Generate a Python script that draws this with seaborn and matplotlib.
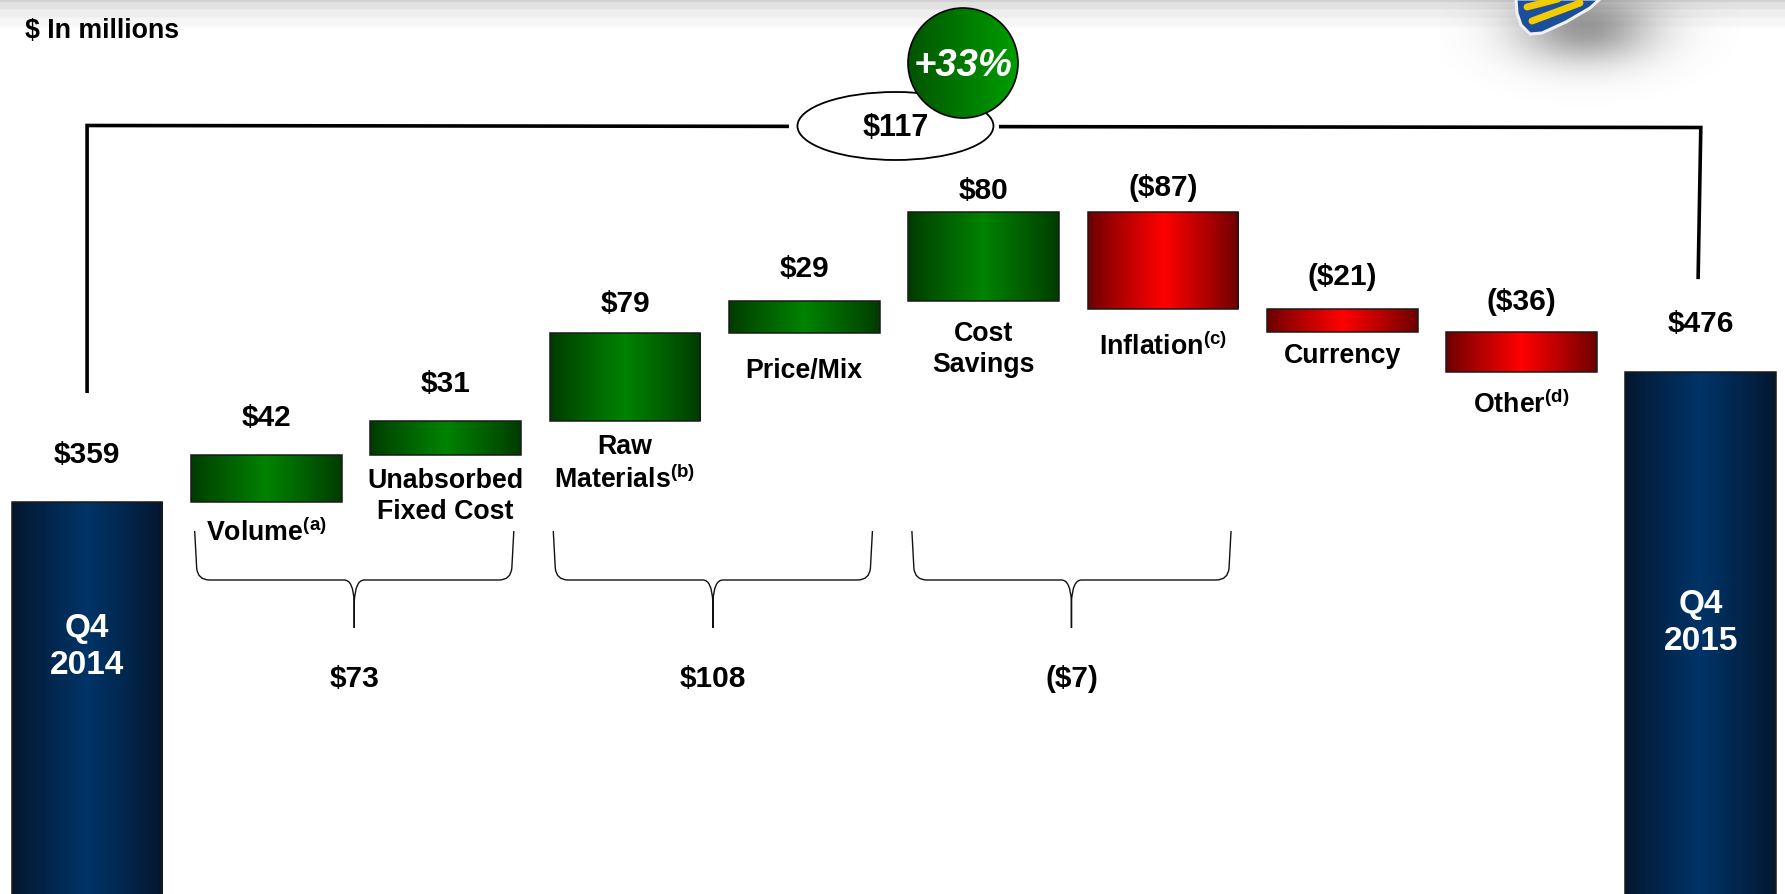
import numpy as np
import pandas as pd
import matplotlib
matplotlib.use("Agg")
import matplotlib.pyplot as plt
import seaborn as sns
from matplotlib.patches import Ellipse, PathPatch, Polygon
from matplotlib.path import Path
from matplotlib.colors import to_rgb

# ---------------- data ($ in millions) ----------------
start_label = "Q4\n2014"
end_label = "Q4\n2015"
start_value = 359
step_names = [
    "Volume$^{\\mathrm{(a)}}$",
    "Unabsorbed\nFixed Cost",
    "Raw\nMaterials$^{\\mathrm{(b)}}$",
    "Price/Mix",
    "Cost\nSavings",
    "Inflation$^{\\mathrm{(c)}}$",
    "Currency",
    "Other$^{\\mathrm{(d)}}$",
]
step_values = [42, 31, 79, 29, 80, -87, -21, -36]
# pairs of neighbouring drivers summarised under a brace (category positions)
brace_groups = [(1, 2), (3, 4), (5, 6)]
unit_note = "$ In millions"

# ---------------- layout constants ----------------
W_PX, H_PX = 1785, 895
X0_PX, X_STEP_PX = 87.1, 179.3          # pixel of first category, pixels per category
Y_REF_VAL, Y_REF_PX, Y_SCALE = 359, 503, 1.11   # value -> pixel mapping
PT = 0.72                                # points per pixel at dpi 100
BAR_WIDTH = 0.84

FS_VALUE, FS_NAME, FS_TOTAL, FS_PCT, FS_NOTE = 21.5, 19.3, 24, 27.5, 19.3

value_gap_px = [48, 38, 38, 30, 33, 22, 25, 33, 31, 49]
name_gap_px = [29.5, 24, 26, 37, 31.5, 37, 23, 32]

GREEN = ("#003a00", "#008200")
RED = ("#6a0000", "#ff0000")
NAVY = ("#04162e", "#003468")


def money(v):
    return f"${v}" if v >= 0 else f"(${-v})"


def xd(px):
    return (px - X0_PX) / X_STEP_PX


def xp(x):
    return X0_PX + x * X_STEP_PX


def yd(py):
    return Y_REF_VAL + (Y_REF_PX - py) / Y_SCALE


def yp(v):
    return Y_REF_PX - (v - Y_REF_VAL) * Y_SCALE


# ---------------- waterfall table ----------------
levels = np.cumsum([start_value] + step_values)
end_value = int(levels[-1])
names = [start_label] + step_names + [end_label]
bottoms = [0] + [int(min(levels[i], levels[i + 1])) for i in range(len(step_values))] + [0]
heights = [start_value] + [abs(v) for v in step_values] + [end_value]
tops = [b + h for b, h in zip(bottoms, heights)]
kinds = ["total"] + ["up" if v > 0 else "down" for v in step_values] + ["total"]
df = pd.DataFrame({"name": names, "height": heights, "bottom": bottoms, "kind": kinds})

# ---------------- style ----------------
sns.set_theme(style="white")
plt.rcParams["font.family"] = ["Liberation Sans", "DejaVu Sans"]
plt.rcParams["font.weight"] = "bold"
plt.rcParams["mathtext.fontset"] = "custom"
plt.rcParams["mathtext.rm"] = "Liberation Sans:bold"
plt.rcParams["mathtext.bf"] = "Liberation Sans:bold"
plt.rcParams["mathtext.it"] = "Liberation Sans:bold:italic"

fig = plt.figure(figsize=(W_PX / 100, H_PX / 100), dpi=100)
ax = fig.add_axes([0, 0, 1, 1])

sns.barplot(data=df, x="name", y="height", order=names, width=BAR_WIDTH,
            errorbar=None, color="#888888", ax=ax)


def gradient_fill(patch, c_edge, c_mid, z, power=0.9):
    bb = patch.get_path().get_extents(patch.get_patch_transform())
    u = np.linspace(0, 1, 300)
    t = (1 - np.abs(2 * u - 1)) ** power
    ce, cm = np.array(to_rgb(c_edge)), np.array(to_rgb(c_mid))
    row = ce[None, :] + (cm - ce)[None, :] * t[:, None]
    im = ax.imshow(row[None, :, :], extent=(bb.x0, bb.x1, bb.y0, bb.y1), aspect="auto",
                   origin="lower", interpolation="bilinear", zorder=z)
    im.set_clip_path(patch)
    return im


# float the driver bars on the running total, then paint the gradients
bars = sorted(ax.patches, key=lambda p: p.get_x())
for patch, kind, b in zip(bars, kinds, df["bottom"]):
    patch.set_y(b)
    patch.set_facecolor("none")
    patch.set_edgecolor("#1a1a1a")
    patch.set_linewidth(1.1)
    patch.set_zorder(3)
    cols = {"total": NAVY, "up": GREEN, "down": RED}[kind]
    gradient_fill(patch, cols[0], cols[1], z=2)

# ---------------- value and category labels ----------------
for i, (top, gap) in enumerate(zip(tops, value_gap_px)):
    val = heights[i] if kinds[i] == "total" else step_values[i - 1]
    ax.annotate(money(val), (i, top), xytext=(0, gap * PT), textcoords="offset points",
                ha="center", va="center", fontsize=FS_VALUE, fontweight="bold", color="black",
                zorder=6)

for k, (name, gap) in enumerate(zip(step_names, name_gap_px)):
    i = k + 1
    n_lines = name.count("\n") + 1
    off = gap + (n_lines - 1) * 16
    ax.annotate(name, (i, bottoms[i]), xytext=(0, -off * PT), textcoords="offset points",
                ha="center", va="center", fontsize=FS_NAME, fontweight="bold", color="black",
                linespacing=1.24, multialignment="center", zorder=6)

ax.text(0, yd(647), start_label, ha="center", va="center", fontsize=FS_TOTAL,
        fontweight="bold", color="white", linespacing=1.22, zorder=6)
ax.text(len(names) - 1, yd(623), end_label, ha="center", va="center", fontsize=FS_TOTAL,
        fontweight="bold", color="white", linespacing=1.22, zorder=6)


# ---------------- braces under driver pairs ----------------
def brace(xl_px, xr_px, ytop, yh, ytip):
    xc = (xl_px + xr_px) / 2
    pts_l = [(xl_px, ytop), (xl_px + 2, yh - 12), (xl_px + 3, yh), (xl_px + 15, yh),
             (xc - 10, yh), (xc - 1, yh), (xc, yh + 22), (xc, ytip)]
    pts_r = [(xc, ytip), (xc, yh + 22), (xc + 1, yh), (xc + 10, yh), (xr_px - 15, yh),
             (xr_px - 3, yh), (xr_px - 2, yh - 12), (xr_px, ytop)]
    codes = [Path.MOVETO, Path.LINETO, Path.CURVE3, Path.CURVE3, Path.LINETO,
             Path.CURVE3, Path.CURVE3, Path.LINETO]
    verts = [(xd(x), yd(y)) for x, y in pts_l + pts_r]
    ax.add_patch(PathPatch(Path(verts, codes + codes), facecolor="none",
                           edgecolor="#111111", linewidth=1.0, zorder=4))
    return xc


for a, b in brace_groups:
    xc = brace(xp(a - 0.40), xp(b + 0.38), 532, 581, 629)
    total = step_values[a - 1] + step_values[b - 1]
    ax.text(xd(xc), yd(679), money(total), ha="center", va="center", fontsize=FS_VALUE,
            fontweight="bold", color="black", zorder=6)

# ---------------- overall change connector ----------------
change = end_value - start_value
pct = round(100 * change / start_value)
last = len(names) - 1
mid_x = last / 2
ell_w_px, ell_h_px = 196, 68
conn_l_px, conn_r_px = 126.5, 128.5
gap_x = 7 / X_STEP_PX
half_w = ell_w_px / 2 / X_STEP_PX


def y_at(x):
    return yd(conn_l_px + (conn_r_px - conn_l_px) * x / last)


ax.plot([0, 0, mid_x - half_w - gap_x],
        [yd(yp(tops[0]) - 109), yd(conn_l_px), y_at(mid_x - half_w - gap_x)],
        color="black", linewidth=2.6, solid_joinstyle="miter", solid_capstyle="butt", zorder=4)
ax.plot([mid_x + half_w + gap_x, last, last - 0.015],
        [y_at(mid_x + half_w + gap_x), yd(conn_r_px), yd(yp(tops[-1]) - 93)],
        color="black", linewidth=2.6, solid_joinstyle="miter", solid_capstyle="butt", zorder=4)

ell = Ellipse((mid_x + 1.5 / X_STEP_PX, yd(127)), ell_w_px / X_STEP_PX, ell_h_px / Y_SCALE,
              facecolor="white", edgecolor="black", linewidth=1.3, zorder=5)
ax.add_patch(ell)
ax.text(mid_x + 2 / X_STEP_PX, yd(128), money(change), ha="center", va="center",
        fontsize=22, fontweight="bold", color="black", zorder=6)

circ_r = 55
circ_c = (xd(963), yd(64))
bgc = Ellipse(circ_c, 2 * circ_r / X_STEP_PX, 2 * circ_r / Y_SCALE,
              facecolor="white", edgecolor="none", zorder=6.5)
ax.add_patch(bgc)
circ = Ellipse(circ_c, 2 * circ_r / X_STEP_PX, 2 * circ_r / Y_SCALE,
               facecolor="none", edgecolor="black", linewidth=1.2, zorder=8)
ax.add_patch(circ)
bb = circ.get_path().get_extents(circ.get_patch_transform())
u = np.linspace(0, 1, 300)
cl, cr = np.array(to_rgb("#005400")), np.array(to_rgb("#009e00"))
row = cl[None, :] + (cr - cl)[None, :] * u[:, None]
im = ax.imshow(row[None, :, :], extent=(bb.x0, bb.x1, bb.y0, bb.y1), aspect="auto",
               origin="lower", interpolation="bilinear", zorder=7)
im.set_clip_path(circ)
ax.text(circ_c[0], yd(66), f"+{pct}%", ha="center", va="center", fontsize=FS_PCT,
        fontweight="bold", fontstyle="italic", color="white", zorder=9)

# ---------------- header band, note and badge ----------------
band_rows = np.interp(np.arange(30), [0, 3, 4, 10, 11, 18, 19, 25, 29],
                      [0.82, 0.82, 0.89, 0.89, 0.935, 0.935, 0.965, 0.965, 1.0])
band = np.repeat(band_rows[:, None, None], 3, axis=2)
ax.imshow(band, extent=(xd(0), xd(W_PX), yd(30), yd(0)), aspect="auto", origin="upper",
          interpolation="bilinear", zorder=0.5)

gx, gy = np.meshgrid(np.linspace(1440, 1760, 160), np.linspace(0, 130, 70))
shadow_a = 0.6 * np.exp(-(((gx - 1585) / 70) ** 2 + ((gy - 28) / 36) ** 2))
shadow = np.zeros(gx.shape + (4,))
shadow[..., :3] = 0.33
shadow[..., 3] = shadow_a
ax.imshow(shadow, extent=(xd(1440), xd(1760), yd(130), yd(0)), aspect="auto", origin="upper",
          interpolation="bicubic", zorder=0.8)

badge_px = [(1516, 0), (1517, 14), (1521, 26), (1530, 35), (1542, 34), (1566, 23),
            (1590, 9), (1600, 0)]
ax.add_patch(Polygon([(xd(x), yd(y)) for x, y in badge_px], closed=True, facecolor="#1b4f9c",
                     edgecolor="#f0f0f0", linewidth=2.2, zorder=1))
for (x1, y1), (x2, y2) in [((1527, 8), (1558, 0)), ((1532, 22), (1580, 4))]:
    ax.plot([xd(x1), xd(x2)], [yd(y1), yd(y2)], color="#f2cc00", linewidth=5.0,
            solid_capstyle="round", zorder=1.2)

ax.text(xd(25), yd(31), unit_note, ha="left", va="center", fontsize=FS_NOTE, fontweight="bold",
        color="black", zorder=6)

ax.set_xlim(xd(0), xd(W_PX))
ax.set_ylim(yd(H_PX), yd(0))
ax.axis("off")

fig.savefig("out.png", dpi=100, facecolor="white")
